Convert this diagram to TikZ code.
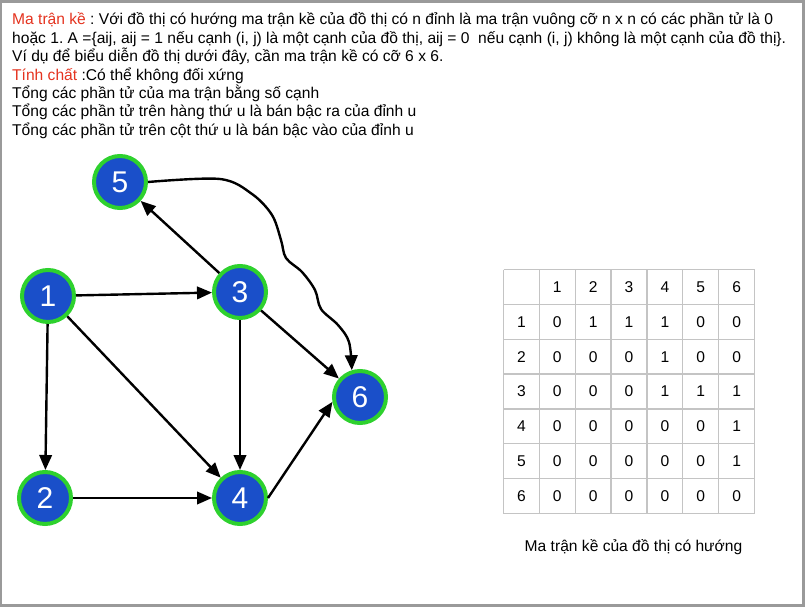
\documentclass[tikz,border=0pt]{standalone}
\usepackage{fontspec}
\setmainfont{Liberation Sans}
\frenchspacing
\usetikzlibrary{arrows.meta}
\definecolor{framegray}{HTML}{9A9A9A}
\definecolor{nodeblue}{HTML}{1A4FC9}
\definecolor{nodegreen}{HTML}{2ED12E}
\definecolor{titlered}{HTML}{E5331F}
\definecolor{gridgray}{HTML}{C4C4C4}
\tikzset{
  txt/.style={anchor=base west, inner sep=0pt, font=\fontsize{15.6}{17}\selectfont},
  vnode/.style={circle, fill=nodeblue, draw=nodegreen, line width=4pt, minimum size=52pt, inner sep=0pt, text=white, font=\fontsize{30}{32}\selectfont},
  arr/.style={line width=2.4pt, -{Triangle[length=15pt,width=12.5pt]}},
  cell/.style={inner sep=0pt, font=\fontsize{15.6}{17}\selectfont}
}
\begin{document}
\begin{tikzpicture}[x=1pt,y=-1pt]
\useasboundingbox (0,0) rectangle (805,607);
\fill[framegray] (0,0) rectangle (805,607);
\fill[white] (2,3) rectangle (801.5,604);
% texts
\node[txt] (t1) at (12,25) {\textcolor{titlered}{Ma trận kề} : Với đồ thị có hướng ma trận kề của đồ thị có n đỉnh là ma trận vuông cỡ n x n có các phần tử là 0};
\node[txt] (t2) at (12,43.4) {hoặc 1. A =\{aij, aij = 1 nếu cạnh (i, j) là một cạnh của đồ thị, aij = 0\ \ nếu cạnh (i, j) không là một cạnh của đồ thị\}.};
\node[txt] (t3) at (12,61.8) {Ví dụ để biểu diễn đồ thị dưới đây, cần ma trận kề có cỡ 6 x 6.};
\node[txt] (t4) at (12,80.2) {\textcolor{titlered}{Tính chất} :Có thể không đối xứng};
\node[txt] (t5) at (12,98.6) {Tổng các phần tử của ma trận bằng số cạnh};
\node[txt] (t6) at (12,117) {Tổng các phần tử trên hàng thứ u là bán bậc ra của đỉnh u};
\node[txt] (t7) at (12,135.4) {Tổng các phần tử trên cột thứ u là bán bậc vào của đỉnh u};
% graph
\node[vnode] (n1) at (48,296) {1};
\node[vnode] (n2) at (45,498) {2};
\node[vnode] (n3) at (240,292) {3};
\node[vnode] (n4) at (240,498) {4};
\node[vnode] (n5) at (120,182) {5};
\node[vnode] (n6) at (360,397) {6};
\draw[arr] (n1) -- (n3);
\draw[arr] (n1) -- (n2);
\draw[arr] (n1) -- (n4);
\draw[arr] (n3) -- (n5);
\draw[arr] (n3) -- (n4);
\draw[arr] (n3) -- (n6);
\draw[arr] (n2) -- (n4);
\draw[arr] (n4.east) -- (n6.190);
\draw[arr] plot[smooth, tension=0.55] coordinates {(n5.east) (220,179) (252,194) (272,215) (281,240) (286,258) (302,272) (315,290) (321,309) (338,325) (349,342) (n6.107)};
% table
\foreach \i in {0,...,7} {
  \draw[gridgray, line width=1.3pt] (503.5+35.86*\i,269.5) -- (503.5+35.86*\i,513.5);
  \draw[gridgray, line width=1.3pt] (503.5,269.5+34.86*\i) -- (754.5,269.5+34.86*\i);
}
\foreach \c in {1,...,6} {
  \node[cell] (h\c) at (503.5+35.86*\c+17.93,269.5+17.43) {\c};
  \node[cell] (r\c) at (503.5+17.93,269.5+34.86*\c+17.43) {\c};
}
\foreach \r/\row in {1/{0,1,1,1,0,0},2/{0,0,0,1,0,0},3/{0,0,0,1,1,1},4/{0,0,0,0,0,1},5/{0,0,0,0,0,1},6/{0,0,0,0,0,0}} {
  \foreach \v [count=\c] in \row {
    \node[cell] (m\r\c) at (503.5+35.86*\c+17.93,269.5+34.86*\r+17.43) {\v};
  }
}
\node[cell, anchor=base] (cap) at (633.5,551) {Ma trận kề của đồ thị có hướng};
\end{tikzpicture}
\end{document}
